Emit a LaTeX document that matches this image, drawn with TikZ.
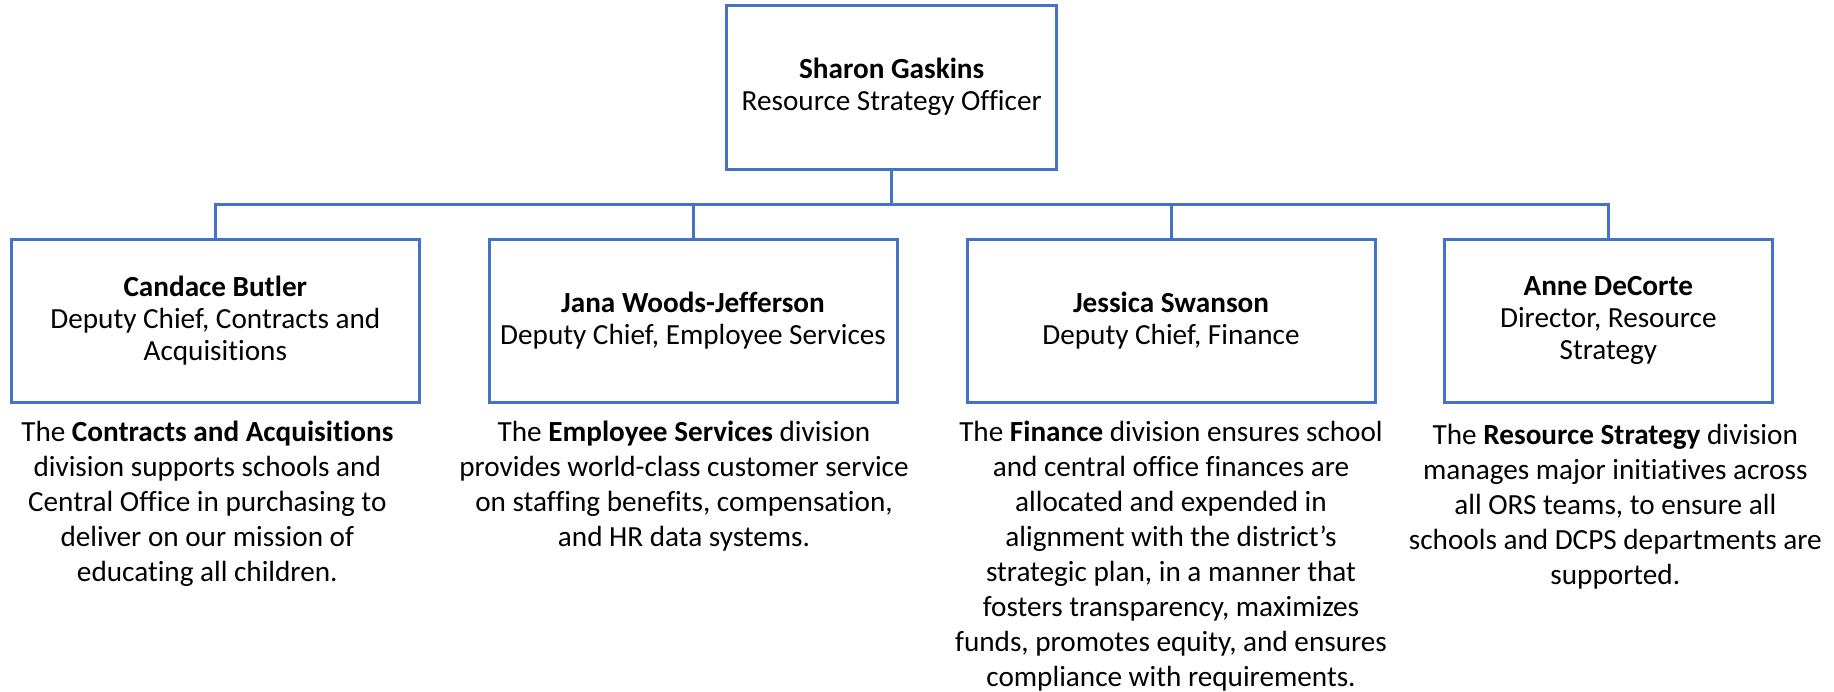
\documentclass[tikz,border=0pt]{standalone}
\usepackage{fontspec}
\setmainfont{Carlito}[Ligatures=NoCommon]
\usepackage{tikz}
\usetikzlibrary{positioning}
\definecolor{OrgBlue}{HTML}{4472C4}

\begin{document}
\begin{tikzpicture}[x=0.5pt, y=-0.5pt,
		PersonBox/.style={rectangle, draw=OrgBlue, line width=1.5pt, minimum width=204pt, minimum height=81.5pt, align=center, font=\fontsize{14.6pt}{16pt}\selectfont},
		DivText/.style={inner sep=0pt, align=center, anchor=north, font=\fontsize{14.6pt}{17.5pt}\selectfont},
		OrgLine/.style={draw=OrgBlue, line width=1.5pt}]
		\useasboundingbox (0,0) rectangle (1834,691);
		\node[PersonBox, minimum width=165pt, minimum height=82pt] (GaskinsBox) at (891.7,87) {\textbf{Sharon Gaskins}\\Resource Strategy Officer};
		\node[PersonBox] (ButlerBox) at (215.3,320.5) {\textbf{Candace Butler}\\Deputy Chief, Contracts and\\Acquisitions};
		\node[PersonBox] (WoodsBox) at (693,320.5) {\textbf{Jana Woods-Jefferson}\\Deputy Chief, Employee Services};
		\node[PersonBox] (SwansonBox) at (1171,320.5) {\textbf{Jessica Swanson}\\Deputy Chief, Finance};
		\node[PersonBox, minimum width=164.3pt] (DeCorteBox) at (1608.3,320.5) {\textbf{Anne DeCorte}\\Director, Resource\\Strategy};
		\node[DivText, below=8.5pt of ButlerBox, xshift=-4pt] (ContractsText) {The \textbf{Contracts and Acquisitions}\\division supports schools and\\Central Office in purchasing to\\deliver on our mission of\\educating all children.};
		\node[DivText, below=8.5pt of WoodsBox, xshift=-4.5pt] (EmployeeText) {The \textbf{Employee Services} division\\provides world-class customer service\\on staffing benefits, compensation,\\and HR data systems.};
		\node[DivText, below=8.5pt of SwansonBox] (FinanceText) {The \textbf{Finance} division ensures school\\and central office finances are\\allocated and expended in\\alignment with the district’s\\strategic plan, in a manner that\\fosters transparency, maximizes\\funds, promotes equity, and ensures\\compliance with requirements.};
		\node[DivText, below=10pt of DeCorteBox, xshift=3.5pt] (StrategyText) {The \textbf{Resource Strategy} division\\manages major initiatives across\\all ORS teams, to ensure all\\schools and DCPS departments are\\supported.};
		\coordinate (Split) at (891.7,204);
		\draw[OrgLine] (GaskinsBox.south) -- (Split);
		\foreach \Child in {ButlerBox, WoodsBox, SwansonBox, DeCorteBox}
			\draw[OrgLine] (\Child.north) |- (Split);
	\end{tikzpicture}
\end{document}
